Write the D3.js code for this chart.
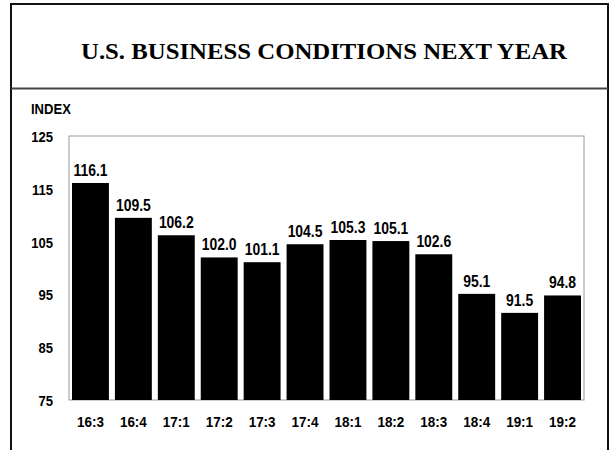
<!DOCTYPE html>
<html>
<head>
<meta charset="utf-8">
<script src="https://cdn.jsdelivr.net/npm/d3@7"></script>
<style>
  body { margin: 0; background: #fff; }
  text { font-family: "Liberation Sans", Arial, sans-serif; font-weight: bold; }
</style>
</head>
<body>
<div id="chart"></div>
<script>
const quarters = ['16:3', '16:4', '17:1', '17:2', '17:3', '17:4', '18:1', '18:2', '18:3', '18:4', '19:1', '19:2'];
const values = [116.1, 109.5, 106.2, 102.0, 101.1, 104.5, 105.3, 105.1, 102.6, 95.1, 91.5, 94.8];
const yTicks = [75, 85, 95, 105, 115, 125];

const w = 611;
const h = 450;
const plot = { left: 69, right: 584, top: 136, bottom: 400 };
const squash = 0.87;

const svg = d3.select("#chart")
    .append("svg")
    .attr("width", w)
    .attr("height", h);

// outer frame (open at the bottom) and header divider
svg.append("path")
    .attr("d", "M11,452 V4 H608 V452")
    .attr("fill", "none")
    .attr("stroke", "#111")
    .attr("stroke-width", 2);

svg.append("line")
    .attr("x1", 11).attr("x2", 608)
    .attr("y1", 88.5).attr("y2", 88.5)
    .attr("stroke", "#444")
    .attr("stroke-width", 2);

svg.append("text")
    .attr("x", 324)
    .attr("y", 59)
    .attr("text-anchor", "middle")
    .attr("textLength", 486)
    .attr("lengthAdjust", "spacingAndGlyphs")
    .style("font-family", "'Liberation Serif', 'Times New Roman', serif")
    .style("font-size", "24px")
    .text("U.S. BUSINESS CONDITIONS NEXT YEAR");

const xScale = d3.scaleBand()
    .domain(quarters)
    .range([plot.left, plot.right])
    .paddingInner(0.14)
    .paddingOuter(0.07);

const yScale = d3.scaleLinear()
    .domain([75, 125])
    .range([plot.bottom, plot.top]);

// narrow bold text, like the original
const label = (x, y, txt, anchor, size) => svg.append("text")
    .attr("transform", `translate(${x},${y}) scale(${squash},1)`)
    .attr("text-anchor", anchor || "middle")
    .style("font-size", (size || 15) + "px")
    .text(txt);

svg.append("rect")
    .attr("x", plot.left)
    .attr("y", plot.top)
    .attr("width", plot.right - plot.left)
    .attr("height", plot.bottom - plot.top)
    .attr("fill", "none")
    .attr("stroke", "#999")
    .attr("stroke-width", 1);

svg.selectAll(".bar")
    .data(values)
    .enter()
    .append("rect")
    .attr("class", "bar")
    .attr("x", (d, i) => xScale(quarters[i]))
    .attr("y", d => yScale(d))
    .attr("width", xScale.bandwidth())
    .attr("height", d => yScale(75) - yScale(d))
    .attr("fill", "#000");

values.forEach((d, i) => {
    label(xScale(quarters[i]) + xScale.bandwidth() / 2, yScale(d) - 7, d.toFixed(1), "middle", 16);
});

quarters.forEach(q => {
    label(xScale(q) + xScale.bandwidth() / 2, 427, q, "middle", 15.5);
});

yTicks.forEach(t => {
    label(53, yScale(t) + 6, t, "end", 15);
});

label(31, 114, "INDEX", "start", 15);
</script>
</body>
</html>
